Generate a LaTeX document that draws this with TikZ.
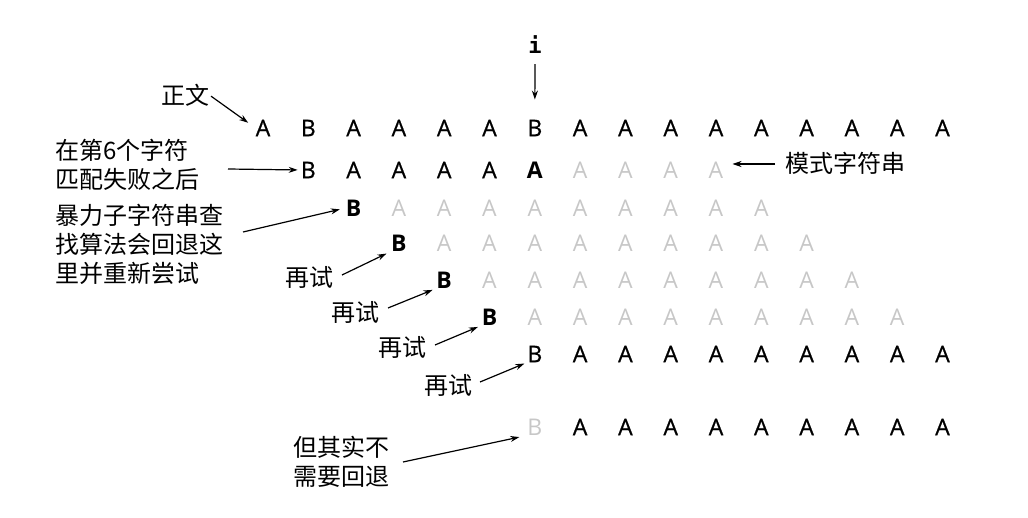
\documentclass[tikz,border=0pt]{standalone}
\usepackage{fontspec}
\newfontfamily\cjk{Noto Sans CJK SC}
\newfontfamily\lf[FakeBold=0.8]{Open Sans}
\newfontfamily\lfb{Open Sans}
\newfontfamily\mf{DejaVu Sans Mono}
\usetikzlibrary{arrows.meta}
\begin{document}
\begin{tikzpicture}[x=1pt,y=-1pt,
 let/.style={inner sep=0pt, font=\fontsize{23}{23}\lf},
 letb/.style={let, font=\fontsize{23}{23}\lfb\bfseries},
 letl/.style={inner sep=0pt, font=\fontsize{23}{23}\lfb, text=black!22},
 lab/.style={inner sep=0pt, font=\fontsize{24}{29}\cjk, align=left},
 arr/.style={-{Stealth[length=9pt,width=6pt]}, line width=1.2pt},
]
\useasboundingbox (0,0) rectangle (1028,518);
% row 0: text
\foreach \c/\t in {0/A,1/B,2/A,3/A,4/A,5/A,6/B,7/A,8/A,9/A,10/A,11/A,12/A,13/A,14/A,15/A}
  \node[let] (r0-\c) at ({263+45.3*\c},128) {\t};
% row 1
\node[let] (r1-1) at ({263+45.3*1},170) {B};
\foreach \c in {2,...,5} \node[let] (r1-\c) at ({263+45.3*\c},170) {A};
\node[letb] (r1-6) at ({263+45.3*6},170) {A};
\foreach \c in {7,...,10} \node[letl] (r1-\c) at ({263+45.3*\c},170) {A};
% rows 2-5
\foreach \r/\y in {2/208,3/243,4/280,5/317}{
  \node[letb] (r\r-\r) at ({263+45.3*\r},\y) {B};
  \pgfmathtruncatemacro\s{\r+1}
  \pgfmathtruncatemacro\e{\r+9}
  \foreach \c in {\s,...,\e} \node[letl] (r\r-\c) at ({263+45.3*\c},\y) {A};
}
% row 6
\node[let] (r6-6) at ({263+45.3*6},354) {B};
\foreach \c in {7,...,15} \node[let] (r6-\c) at ({263+45.3*\c},354) {A};
% row 7
\node[letl] (r7-6) at ({263+45.3*6},427) {B};
\foreach \c in {7,...,15} \node[let] (r7-\c) at ({263+45.3*\c},427) {A};
% labels
\node[inner sep=0pt, font=\fontsize{22}{22}\mf\bfseries] (i) at (535,45) {i};
\node[lab, anchor=west] (zw) at (161,95) {正文};
\node[lab, anchor=west] (l1) at (55,165) {在第6个字符\\匹配失败之后};
\node[lab, anchor=west] (l2) at (55,244) {暴力子字符串查\\找算法会回退这\\里并重新尝试};
\node[lab] (z1) at (309,277) {再试};
\node[lab] (z2) at (355,312) {再试};
\node[lab] (z3) at (402,347) {再试};
\node[lab] (z4) at (448,385) {再试};
\node[lab, anchor=west] (l3) at (293,462) {但其实不\\需要回退};
\node[lab, anchor=west] (ms) at (785,163) {模式字符串};
% arrow start points
\coordinate (a1) at (228,169);
\coordinate (a2) at (243,232);
\coordinate (a3) at (342,275);
\coordinate (a4) at (388,308);
\coordinate (a5) at (435,345);
\coordinate (a6) at (480,382);
\coordinate (a7) at (403,462);
\coordinate (a8) at (775,164);
% arrows
\draw[arr, shorten <=10pt, shorten >=20pt] (i.south) -- (r0-6.north);
\draw[arr, shorten <=2pt, shorten >=9pt] (zw.east) -- (r0-0.west);
\draw[arr, shorten >=3pt] (a1) -- (r1-1.west);
\draw[arr, shorten >=6pt] (a2) -- (r2-2.west);
\draw[arr, shorten >=5pt] (a3) -- (r3-3.south west);
\draw[arr, shorten >=4pt] (a4) -- (r4-4.south west);
\draw[arr, shorten >=4pt] (a5) -- (r5-5.south west);
\draw[arr, shorten >=3pt] (a6) -- (r6-6.south west);
\draw[arr, shorten >=8pt] (a7) -- (r7-6.south west);
\draw[arr, shorten >=9pt] (a8) -- (a8 -| r1-10.east);
\end{tikzpicture}
\end{document}
